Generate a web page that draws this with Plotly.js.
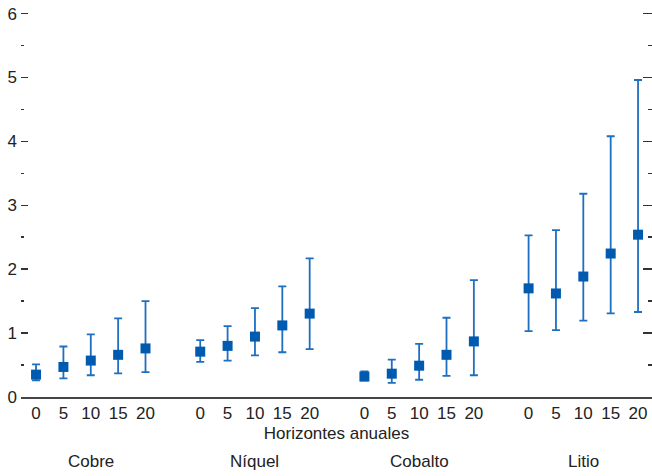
<!DOCTYPE html>
<html>
<head>
<meta charset="utf-8">
<script src="https://cdn.plot.ly/plotly-3.0.1.min.js"></script>
<style>html,body{margin:0;padding:0;background:#fff;}#chart{width:652px;height:476px;}</style>
</head>
<body>
<div id="chart"></div>
<script>
const groups = ["Cobre", "Níquel", "Cobalto", "Litio"];
const horizons = ["0", "5", "10", "15", "20"];

const cobreMid = [0.35, 0.47, 0.57, 0.66, 0.76];
const cobreHigh = [0.51, 0.79, 0.98, 1.23, 1.50];
const cobreLow = [0.26, 0.29, 0.34, 0.37, 0.39];

const niquelMid = [0.71, 0.80, 0.945, 1.12, 1.305];
const niquelHigh = [0.89, 1.11, 1.39, 1.73, 2.17];
const niquelLow = [0.55, 0.57, 0.65, 0.70, 0.75];

const cobaltoMid = [0.32, 0.365, 0.49, 0.66, 0.87];
const cobaltoHigh = [0.40, 0.585, 0.83, 1.24, 1.83];
const cobaltoLow = [0.26, 0.22, 0.27, 0.33, 0.34];

const litioMid = [1.70, 1.62, 1.885, 2.245, 2.54];
const litioHigh = [2.53, 2.61, 3.18, 4.08, 4.96];
const litioLow = [1.03, 1.045, 1.195, 1.31, 1.33];

const mids = [cobreMid, niquelMid, cobaltoMid, litioMid];
const highs = [cobreHigh, niquelHigh, cobaltoHigh, litioHigh];
const lows = [cobreLow, niquelLow, cobaltoLow, litioLow];

const font = "'Liberation Sans Narrow', 'Arial Narrow', 'Liberation Sans', Arial, sans-serif";
const blue = "#005bb0";
const errBlue = "#1f6fc0";

const xs = [], ys = [], up = [], dn = [], tickvals = [], ticktext = [];
groups.forEach((g, gi) => {
  horizons.forEach((h, hi) => {
    const x = gi * 6 + hi;
    xs.push(x);
    ys.push(mids[gi][hi]);
    up.push(highs[gi][hi] - mids[gi][hi]);
    dn.push(mids[gi][hi] - lows[gi][hi]);
    tickvals.push(x);
    ticktext.push(h);
  });
});

const trace = {
  type: "scatter",
  mode: "markers",
  x: xs,
  y: ys,
  marker: {symbol: "square", size: 10, color: blue},
  error_y: {type: "data", symmetric: false, array: up, arrayminus: dn,
            color: errBlue, thickness: 1.8, width: 4},
  hoverinfo: "skip",
  showlegend: false
};

const ghost = {
  type: "scatter", mode: "markers", x: [0], y: [0], yaxis: "y2",
  marker: {opacity: 0}, showlegend: false, hoverinfo: "skip"
};

const annotations = groups.map((g, gi) => ({
  text: g, x: gi * 6 + 2, xref: "x", y: -0.168, yref: "paper",
  yanchor: "middle", xanchor: "center", showarrow: false,
  font: {family: font, size: 17, color: "#222"}
}));

const layout = {
  width: 652, height: 476,
  margin: {l: 21, r: 0, t: 11, b: 79},
  paper_bgcolor: "#fff", plot_bgcolor: "#fff",
  font: {family: font, size: 17, color: "#222"},
  xaxis: {
    range: [-0.55, 22.51], tickvals: tickvals, ticktext: ticktext,
    showgrid: false, zeroline: false, showline: true, linecolor: "#444", linewidth: 2,
    ticks: "", tickfont: {family: font, size: 17, color: "#222"},
    title: {text: "Horizontes anuales", standoff: 5, font: {family: font, size: 17, color: "#222"}}
  },
  yaxis: {
    range: [0, 6.04], dtick: 1, tick0: 0, showgrid: false, zeroline: false, showline: false,
    ticks: "inside", ticklen: 7, tickwidth: 1.5, tickcolor: "#333",
    minor: {dtick: 0.5, ticks: "inside", ticklen: 3, tickwidth: 1.5, tickcolor: "#333", showgrid: false},
    tickfont: {family: font, size: 17, color: "#222"}, ticklabelstandoff: 3
  },
  yaxis2: {
    overlaying: "y", side: "right", range: [0, 6.04], dtick: 1, tick0: 0,
    showgrid: false, zeroline: false, showline: false, showticklabels: false,
    ticks: "inside", ticklen: 9, tickwidth: 1.5, tickcolor: "#333",
    minor: {dtick: 0.5, ticks: "inside", ticklen: 4, tickwidth: 1.5, tickcolor: "#333", showgrid: false}
  },
  annotations: annotations
};

Plotly.newPlot("chart", [trace, ghost], layout, {displayModeBar: false, staticPlot: true});
</script>
</body>
</html>
